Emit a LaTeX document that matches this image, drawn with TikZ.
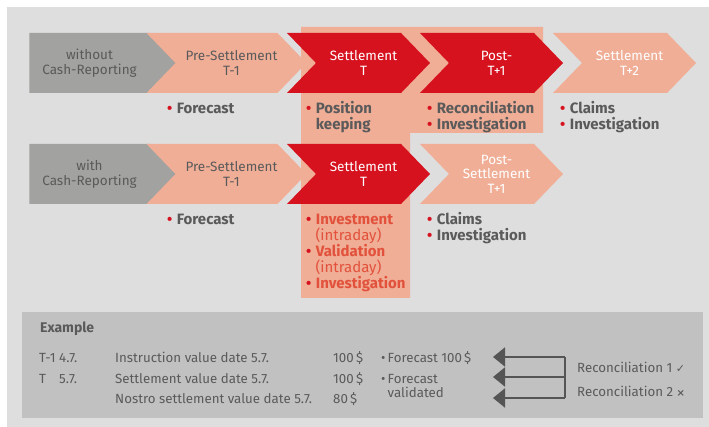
\documentclass[tikz,border=0pt]{standalone}
\usepackage{fontspec}
\setmainfont{Fira Sans}
\newfontfamily\symfont{DejaVu Sans}
\usetikzlibrary{shapes.symbols,arrows.meta}

\definecolor{bggray}{HTML}{DEDEDE}
\definecolor{chevgray}{HTML}{A2A2A0}
\definecolor{salmon}{HTML}{F0AE97}
\definecolor{sred}{HTML}{D7121F}
\definecolor{txtgray}{HTML}{5A5A5A}
\definecolor{hotred}{HTML}{E2513B}
\definecolor{boxgray}{HTML}{C1C1C1}
\definecolor{arrgray}{HTML}{555555}

\newcommand\rb{{\color{sred}\textbullet}\hspace{4.5pt}}
\newcommand\ind{\hphantom{\rb}}

\begin{document}
\begin{tikzpicture}[
    x=1pt, y=-1pt,
    chev/.style={signal, signal to=east, signal pointer angle=92, draw=none, inner sep=0pt, outer sep=0pt,
      minimum width=143pt, minimum height=60pt, align=center, font=\fontsize{13.5}{15}\selectfont},
    first/.style={chev, fill=chevgray, text=txtgray, minimum width=149pt},
    pre/.style={chev, signal from=west, fill=salmon, text=txtgray},
    main/.style={chev, signal from=west, fill=sred, text=white},
    later/.style={chev, signal from=west, fill=salmon, text=white},
    bul/.style={anchor=base west, inner sep=0pt, text=txtgray, font=\bfseries\fontsize{15}{16}\selectfont},
    ex/.style={anchor=base west, inner sep=0pt, text=txtgray, font=\fontsize{13.3}{14}\selectfont},
    recarrow/.style={draw=arrgray, line width=2pt, -{Triangle[length=12pt,width=19pt]}}
]
\useasboundingbox (0,0) rectangle (709,427);
\fill[bggray] (7,7) rectangle (709,427);

% Highlight behind settlement day
\fill[salmon] (301,27) -- (543,27) -- (543,133) -- (410,133) -- (410,298) -- (301,298) -- cycle;

% Top row: without cash reporting
\node[first] (wo) at (89.5,63) {without\\Cash-Reporting};
\node[pre] (pre1) at (226.5,63) {\hspace*{10pt}Pre-Settlement\\\hspace*{10pt}T-1};
\node[main] (set1) at (358.5,63) {\hspace*{10pt}Settlement\\\hspace*{10pt}T};
\node[main] (post1) at (491.5,63) {\hspace*{10pt}Post-\\\hspace*{10pt}T+1};
\node[later] (tp2) at (624.5,63) {\hspace*{10pt}Settlement\\\hspace*{10pt}T+2};

\node[bul] (b11) at (167,114) {\rb Forecast};
\node[bul] (b12) at (306,114) {\rb Position};
\node[bul] (b12a) at (306,130) {\ind keeping};
\node[bul] (b13) at (427,114) {\rb Reconciliation};
\node[bul] (b13a) at (427,130) {\rb Investigation};
\node[bul] (b14) at (560,114) {\rb Claims};
\node[bul] (b14a) at (560,130) {\rb Investigation};

% Second row: with cash reporting
\node[first] (wi) at (89.5,174) {with\\Cash-Reporting};
\node[pre] (pre2) at (226.5,174) {\hspace*{10pt}Pre-Settlement\\\hspace*{10pt}T-1};
\node[main] (set2) at (358.5,174) {\hspace*{10pt}Settlement\\\hspace*{10pt}T};
\node[later, font=\fontsize{13.5}{14.5}\selectfont] (post2) at (491.5,174) {\hspace*{10pt}Post-\\\hspace*{10pt}Settlement\\\hspace*{10pt}T+1};

\node[bul] (b21) at (167,225) {\rb Forecast};
\node[bul, text=hotred] (b22) at (306,225) {\rb Investment};
\node[bul, text=hotred, font=\fontsize{15}{16}\selectfont] (b22a) at (306,241) {\ind(intraday)};
\node[bul, text=hotred] (b22b) at (306,257) {\rb Validation};
\node[bul, text=hotred, font=\fontsize{15}{16}\selectfont] (b22c) at (306,273) {\ind(intraday)};
\node[bul, text=hotred] (b22d) at (306,289) {\rb Investigation};
\node[bul] (b23) at (427,225) {\rb Claims};
\node[bul] (b23a) at (427,241) {\rb Investigation};

% Example box
\fill[boxgray] (22,312) rectangle (703,418);
\node[ex, font=\bfseries\fontsize{14}{14}\selectfont] (exa) at (40,333) {Example};

\node[ex] (d1) at (39,362) {T-1};
\node[ex] (v1) at (59,362) {4.7.};
\node[ex] (i1) at (115,362) {Instruction value date 5.7.};
\node[ex] (m1) at (333,362) {100\,\$};
\node[ex] (d2) at (39,383) {T};
\node[ex] (v2) at (59,383) {5.7.};
\node[ex] (i2) at (115,383) {Settlement value date 5.7.};
\node[ex] (m2) at (333,383) {100\,\$};
\node[ex] (i3) at (115,403) {Nostro settlement value date 5.7.};
\node[ex] (m3) at (333,403) {80\,\$};

\node[ex] (f1) at (381,362) {\textbullet\,Forecast 100\,\$};
\node[ex] (f2) at (381,383) {\textbullet\,Forecast};
\node[ex] (f2a) at (381,397) {\hphantom{\textbullet\,}validated};

\node[ex] (r1) at (577,372) {Reconciliation 1 {\symfont\fontsize{11}{11}\selectfont ✓}};
\node[ex] (r2) at (577,396) {Reconciliation 2 {\symfont\fontsize{10}{10}\selectfont\bfseries ×}};

% Reconciliation arrows
\coordinate (j1) at (565,357);
\coordinate (j2) at (565,377);
\coordinate (j3) at (565,398);
\coordinate (t1) at (493,357);
\coordinate (t2) at (493,377);
\coordinate (t3) at (493,398);
\draw[draw=arrgray, line width=2pt] (j1) -- (j3);
\draw[recarrow] (j1) -- (t1);
\draw[recarrow] (j2) -- (t2);
\draw[recarrow] (j3) -- (t3);

\end{tikzpicture}
\end{document}
